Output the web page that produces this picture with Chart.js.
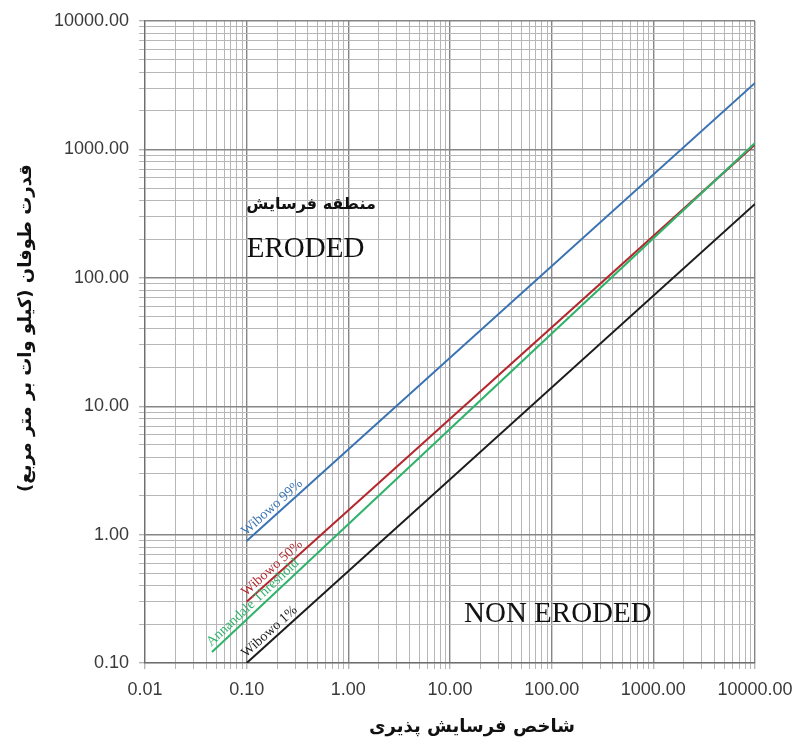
<!DOCTYPE html>
<html>
<head>
<meta charset="utf-8">
<script src="https://cdn.jsdelivr.net/npm/chart.js@4.4.0/dist/chart.umd.min.js"></script>
<style>
  html, body { margin: 0; padding: 0; background: #ffffff; }
  canvas { display: block; }
</style>
</head>
<body>
<canvas id="chart" width="793" height="745"></canvas>
<script>
// Power-law curves: each line is defined by its first and last point
const xWibowo99 = [0.1, 10000];
const yWibowo99 = [0.89, 3290];
const xWibowo50 = [0.1, 10000];
const yWibowo50 = [0.30, 1090];
const xAnnandale = [0.0456, 10000];
const yAnnandale = [0.122, 1120];
const xWibowo1 = [0.1, 10000];
const yWibowo1 = [0.10, 376];

const seriesNames = ['Wibowo 99%', 'Annandale Threshold', 'Wibowo 50%', 'Wibowo 1%'];
const seriesColors = ['#3a73b3', '#2fb26a', '#b3282d', '#1c1c1c'];

// Decade boundaries for the two logarithmic axes
const xDecades = [0.01, 0.1, 1, 10, 100, 1000, 10000];
const yDecades = [0.1, 1, 10, 100, 1000, 10000];

// Text
const xTitle = 'شاخص فرسایش پذیری';
const yTitle = 'قدرت طوفان (کیلو وات بر متر مربع)';
const zoneFa = 'منطقه فرسایش';
const zoneEroded = 'ERODED';
const zoneNonEroded = 'NON ERODED';

// Data-space anchors for the zone labels
const zoneFaAt = [0.43, 369];
const zoneErodedAt = [0.38, 167];
const zoneNonErodedAt = [115, 0.237];

function toPoints(xs, ys) {
  return xs.map((x, i) => ({ x: x, y: ys[i] }));
}

function isDecade(v) {
  const l = Math.log10(v);
  return Math.abs(l - Math.round(l)) < 1e-9;
}

// 1..9 × 10^n ticks between the first and last decade
function logTicks(decades) {
  const out = [];
  for (let i = 0; i < decades.length - 1; i++) {
    for (let k = 1; k <= 9; k++) out.push(+(decades[i] * k).toPrecision(6));
  }
  out.push(decades[decades.length - 1]);
  return out.map(v => ({ value: v }));
}

const MAJOR_GRID = '#868686';
const MINOR_GRID = '#b6b6b6';
const TICK_FONT = { family: '"Liberation Sans", Arial, sans-serif', size: 18 };

function axisOptions(decades) {
  return {
    type: 'logarithmic',
    min: decades[0],
    max: decades[decades.length - 1],
    afterBuildTicks: (scale) => { scale.ticks = logTicks(decades); },
    ticks: {
      autoSkip: false,
      maxRotation: 0,
      minRotation: 0,
      padding: 10,
      color: '#3a3a3a',
      font: TICK_FONT,
      callback: (value) => isDecade(value) ? Number(value).toFixed(2) : ''
    },
    grid: {
      color: (c) => (c.tick && isDecade(c.tick.value)) ? MAJOR_GRID : MINOR_GRID,
      lineWidth: (c) => (c.tick && isDecade(c.tick.value)) ? 1.4 : 1,
      tickColor: MINOR_GRID,
      tickLength: 6,
      drawTicks: true
    },
    border: { display: true, color: '#6e6e6e', width: 1.2 }
  };
}

const xAxis = axisOptions(xDecades);
xAxis.position = 'bottom';
xAxis.afterFit = (scale) => { scale.height = 82; scale.paddingLeft = 0; scale.paddingRight = 0; };

const yAxis = axisOptions(yDecades);
yAxis.position = 'left';
yAxis.afterFit = (scale) => { scale.width = 145; scale.paddingTop = 0; scale.paddingBottom = 0; };

// Axis titles, zone labels and the rotated curve labels
const textLayer = {
  id: 'textLayer',
  afterDatasetsDraw(chart) {
    const { ctx, chartArea, scales } = chart;
    const sx = scales.x, sy = scales.y;
    ctx.save();

    // curve labels, laid along each line from its first point
    chart.data.datasets.forEach((ds, i) => {
      const meta = chart.getDatasetMeta(i);
      const p0 = meta.data[0], p1 = meta.data[meta.data.length - 1];
      const ang = Math.atan2(p1.y - p0.y, p1.x - p0.x);
      ctx.save();
      ctx.translate(p0.x, p0.y);
      ctx.rotate(ang);
      ctx.font = '14px "Liberation Serif", "Times New Roman", serif';
      ctx.fillStyle = ds.borderColor;
      ctx.textAlign = 'left';
      ctx.textBaseline = 'bottom';
      ctx.fillText(ds.label, 3, -1);
      ctx.restore();
    });

    // zone labels
    ctx.fillStyle = '#111111';
    ctx.textAlign = 'center';
    ctx.textBaseline = 'middle';
    ctx.direction = 'rtl';
    ctx.font = 'bold 16px "DejaVu Sans", sans-serif';
    ctx.fillText(zoneFa, sx.getPixelForValue(zoneFaAt[0]), sy.getPixelForValue(zoneFaAt[1]));
    ctx.direction = 'ltr';
    ctx.font = '29px "Liberation Serif", "Times New Roman", serif';
    ctx.fillText(zoneEroded, sx.getPixelForValue(zoneErodedAt[0]), sy.getPixelForValue(zoneErodedAt[1]));
    ctx.fillText(zoneNonEroded, sx.getPixelForValue(zoneNonErodedAt[0]), sy.getPixelForValue(zoneNonErodedAt[1]));

    // axis titles
    ctx.direction = 'rtl';
    ctx.font = 'bold 18px "DejaVu Sans", sans-serif';
    ctx.fillText(xTitle, (chartArea.left + chartArea.right) / 2 + 22, chartArea.bottom + 64);
    ctx.save();
    ctx.translate(26, (chartArea.top + chartArea.bottom) / 2 - 14);
    ctx.rotate(-Math.PI / 2);
    ctx.fillText(yTitle, 0, 0);
    ctx.restore();

    ctx.restore();
  }
};

new Chart(document.getElementById('chart'), {
  type: 'line',
  data: {
    datasets: [
      { label: seriesNames[0], data: toPoints(xWibowo99, yWibowo99), borderColor: seriesColors[0] },
      { label: seriesNames[1], data: toPoints(xAnnandale, yAnnandale), borderColor: seriesColors[1] },
      { label: seriesNames[2], data: toPoints(xWibowo50, yWibowo50), borderColor: seriesColors[2] },
      { label: seriesNames[3], data: toPoints(xWibowo1, yWibowo1), borderColor: seriesColors[3] }
    ].map(d => Object.assign(d, { borderWidth: 2, pointRadius: 0, tension: 0, fill: false }))
  },
  options: {
    responsive: false,
    animation: false,
    devicePixelRatio: 1,
    layout: { padding: { top: 21, right: 38, bottom: 0, left: 0 } },
    plugins: { legend: { display: false }, tooltip: { enabled: false } },
    scales: { x: xAxis, y: yAxis }
  },
  plugins: [textLayer]
});
</script>
</body>
</html>
